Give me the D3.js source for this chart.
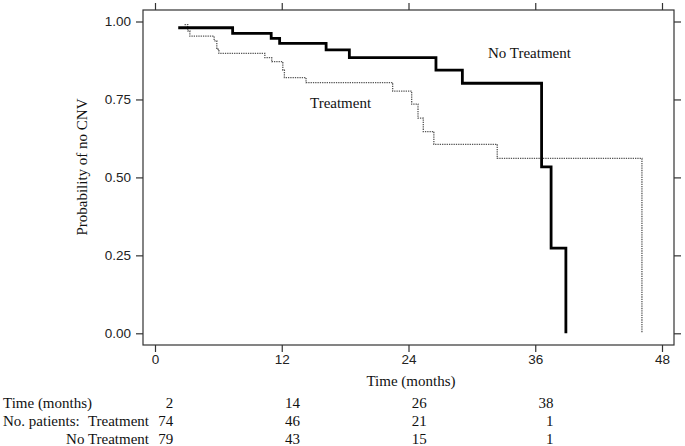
<!DOCTYPE html>
<html><head><meta charset="utf-8">
<script src="https://cdn.jsdelivr.net/npm/d3@7"></script>
<style>
html,body{margin:0;padding:0;background:#fff;}
svg{display:block;}
.serif{font-family:"Liberation Serif","Times New Roman",serif;font-size:15px;fill:#111;}
.tick text{font-family:"Liberation Sans",Arial,sans-serif;font-size:13.5px;fill:#222;}
</style></head>
<body>
<svg id="c" width="685" height="446"></svg>
<script>
// ---- data ----
const noTreatTimes = [2.2, 7.35, 11.0, 11.8, 16.2, 18.4, 26.6, 29.1, 36.6, 37.5, 38.9];
const noTreatSurv  = [0.98, 0.962, 0.946, 0.930, 0.909, 0.884, 0.844, 0.802, 0.534, 0.273, 0.0];
const treatTimes = [2.8, 3.1, 3.3, 5.6, 5.85, 6.05, 10.4, 11.05, 12.1, 12.25, 14.3, 22.5, 24.3, 24.9, 25.4, 26.4, 32.4, 46.1];
const treatSurv  = [0.99, 0.97, 0.953, 0.938, 0.911, 0.898, 0.884, 0.871, 0.844, 0.82, 0.804, 0.777, 0.735, 0.690, 0.647, 0.606, 0.561, 0.0];
const xTicks = [0, 12, 24, 36, 48];
const yTicks = [0, 0.25, 0.5, 0.75, 1];
const yTickLabels = ["0.00", "0.25", "0.50", "0.75", "1.00"];
const tableTimes = [2, 14, 26, 38];
const tableTreat = [74, 46, 21, 1];
const tableNoTreat = [79, 43, 15, 1];

// ---- layout ----
const svg = d3.select("#c");
const x = d3.scaleLinear().domain([0, 48]).range([155, 662]);
const y = d3.scaleLinear().domain([0, 1]).range([333.3, 21.5]);
const frame = {l: 143, r: 674, t: 10, b: 345};

// frame
svg.append("rect").attr("x", frame.l).attr("y", frame.t)
  .attr("width", frame.r - frame.l).attr("height", frame.b - frame.t)
  .attr("fill", "none").attr("stroke", "#333").attr("stroke-width", 1.2);

function styleAxis(g){
  g.select(".domain").remove();
  g.selectAll(".tick line").attr("stroke", "#333").attr("stroke-width", 1.2);
}
svg.append("g").attr("transform", `translate(${frame.l},0)`)
  .call(d3.axisLeft(y).tickValues(yTicks).tickSize(7).tickPadding(5)
    .tickFormat((d,i) => yTickLabels[i])).call(styleAxis);
svg.append("g").attr("transform", `translate(${frame.r},0)`)
  .call(d3.axisRight(y).tickValues(yTicks).tickSize(7).tickFormat("")).call(styleAxis);
svg.append("g").attr("transform", `translate(0,${frame.b})`)
  .call(d3.axisBottom(x).tickValues(xTicks).tickSize(7).tickPadding(2).tickFormat(d3.format("d"))).call(styleAxis);
svg.append("g").attr("transform", `translate(0,${frame.t})`)
  .call(d3.axisTop(x).tickValues(xTicks).tickSize(7).tickFormat("")).call(styleAxis);

// curves
const line = d3.line().x(d => x(d[0])).y(d => y(d[1])).curve(d3.curveStepAfter);
svg.append("path").datum(treatTimes.map((t,i) => [t, treatSurv[i]]))
  .attr("d", line).attr("fill", "none").attr("stroke", "#555")
  .attr("stroke-width", 1.3).attr("stroke-dasharray", "1.3,1");
svg.append("path").datum(noTreatTimes.map((t,i) => [t, noTreatSurv[i]]))
  .attr("d", line).attr("fill", "none").attr("stroke", "#000")
  .attr("stroke-width", 2.8);

// curve labels
svg.append("text").attr("class", "serif").attr("x", 488).attr("y", 58).text("No Treatment");
svg.append("text").attr("class", "serif").attr("x", 310).attr("y", 108).text("Treatment");

// axis titles
svg.append("text").attr("class", "serif").attr("x", 411).attr("y", 386)
  .attr("text-anchor", "middle").text("Time (months)");
svg.append("text").attr("class", "serif").attr("transform", "translate(87,167) rotate(-90)")
  .attr("text-anchor", "middle").text("Probability of no CNV");

// risk table
const rows = [408, 426, 444];
svg.append("text").attr("class", "serif").attr("x", 3).attr("y", rows[0]).text("Time (months)");
svg.append("text").attr("class", "serif").attr("x", 3).attr("y", rows[1]).text("No. patients:");
svg.append("text").attr("class", "serif").attr("x", 149).attr("y", rows[1]).attr("text-anchor", "end").text("Treatment");
svg.append("text").attr("class", "serif").attr("x", 149).attr("y", rows[2]).attr("text-anchor", "end").text("No Treatment");
[tableTimes, tableTreat, tableNoTreat].forEach((arr, r) => {
  svg.selectAll(null).data(arr).enter().append("text").attr("class", "serif")
    .attr("x", (d,i) => x(tableTimes[i]) - 3).attr("y", rows[r])
    .attr("text-anchor", "end").text(d => d);
});
</script>
</body></html>
